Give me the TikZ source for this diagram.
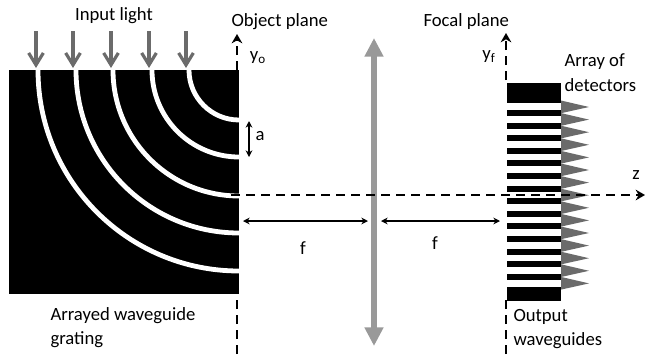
\documentclass[tikz,border=0pt]{standalone}
\usepackage{fontspec}
\setmainfont{Carlito}
\usetikzlibrary{arrows.meta}
\definecolor{lightgray}{gray}{0.6}
\definecolor{midgray}{gray}{0.42}
\begin{document}
\begin{tikzpicture}[x=0.75pt,y=-0.75pt,line width=0.75pt,
  every node/.style={font=\fontsize{14}{16}\selectfont,inner sep=0pt},
  axisline/.style={line width=1.5pt,dash pattern=on 6.75pt off 4.5pt},
  axishead/.style={-{Stealth[length=7pt,width=8pt]}},
  dimline/.style={{Stealth[length=5pt,width=5pt]}-{Stealth[length=5pt,width=5pt]},line width=1pt},
  inputarrow/.style={midgray,line width=2.4pt,-{Straight Barb[length=9pt,width=11pt,line width=2.4pt]}},
  lensline/.style={lightgray,line width=4.5pt,{Triangle[length=14pt,width=13.5pt]}-{Triangle[length=14pt,width=13.5pt]}}]
\useasboundingbox (0,0) rectangle (647,354);
% axes behind the blocks
\draw[axisline] (237,354) -- (237,294);
\draw[axisline,axishead] (237,70) -- (237,34);
\draw[axisline] (506,354) -- (506,300);
\draw[axisline,axishead] (506,80) -- (506,33);
% grating
\fill (9,70) rectangle (239,294);
\foreach \r in {50,87,126,163,201}
  \draw[white,line width=3.6pt] (239-\r,70) arc[start angle=180,end angle=90,radius=\r];
\foreach \x in {36,73,111,149,186}
  \draw[inputarrow] (\x,31) -- (\x,68);
% lens
\draw[lensline] (374,38) -- (374,346);
% output waveguides
\fill (507,83) rectangle (561,103);
\fill (507,287) rectangle (561,301);
\foreach \i in {0,...,13}
  \fill (507,110+12.6*\i) rectangle (561,116+12.6*\i);
\foreach \i in {0,...,14}
  \fill[midgray] (561,100.5+12.6*\i) -- (589,107+12.6*\i) -- (561,113.2+12.6*\i) -- cycle;
% optical axis
\draw[axisline,axishead] (231,195) -- (645,195);
% dimensions
\coordinate (aTop) at (249,121);
\coordinate (aBot) at (249,157);
\coordinate (fLeftA) at (243,221);
\coordinate (fLeftB) at (368,221);
\coordinate (fRightA) at (381,221);
\coordinate (fRightB) at (500,221);
\draw[dimline] (aTop) -- (aBot);
\draw[dimline] (fLeftA) -- (fLeftB);
\draw[dimline] (fRightA) -- (fRightB);
\node (inputLbl) at (114,16) {Input light};
\node[anchor=west] (objLbl) at (231,22) {Object plane};
\node[anchor=west] (focalLbl) at (423,22) {Focal plane};
\node (yoLbl) at (258,58) {y\textsubscript{o}};
\node (yfLbl) at (489,57) {y\textsubscript{f}};
\node (aLbl) at (260,136) {a};
\node (fLeftLbl) at (303,248) {f};
\node (fRightLbl) at (435,243) {f};
\node (zLbl) at (636,175) {z};
\node[anchor=west] (arrLbl) at (564,62) {Array of};
\node[anchor=west] (detLbl) at (564,85) {detectors};
\node[anchor=west] (awgLbl) at (50,316) {Arrayed waveguide};
\node[anchor=west] (grtLbl) at (50,340) {grating};
\node[anchor=west] (outLbl) at (513,317) {Output};
\node[anchor=west] (wgLbl) at (513,341) {waveguides};
\end{tikzpicture}
\end{document}
